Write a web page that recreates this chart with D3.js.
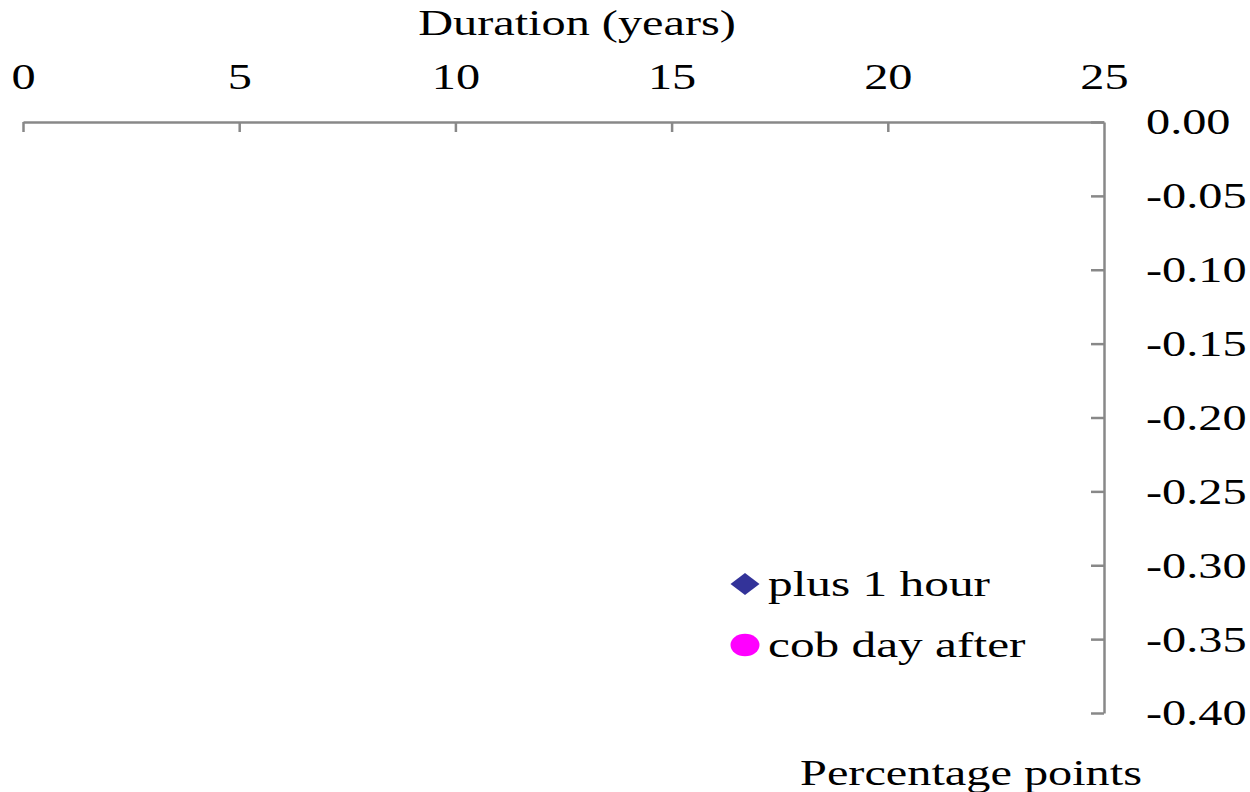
<!DOCTYPE html>
<html>
<head>
<meta charset="utf-8">
<script src="https://cdn.jsdelivr.net/npm/d3@7"></script>
<style>
  body { margin: 0; background: #fff; }
  text { font-family: "Liberation Serif", "Times New Roman", serif; fill: #000; }
  .axis path, .axis line { stroke: #888; stroke-width: 2.5; }
</style>
</head>
<body>
<div class="canvas"></div>
<script>
// chart data -- the reference shows no plotted points, only axes + legend
const seriesNames = ["plus 1 hour", "cob day after"];
const seriesColors = ["#333399", "#ff00ff"];
const plusOneHour = [];   // [duration, change]
const cobDayAfter = [];
const xTicks = [0, 5, 10, 15, 20, 25];
const yTicks = [0, -0.05, -0.10, -0.15, -0.20, -0.25, -0.30, -0.35, -0.40];

const W = 1250, H = 792,
  stretch = 1.38,      // text in the source is wide, horizontally stretched
  fontSize = 35;

const x = d3.scaleLinear().domain([0, 25]).range([23, 1104]);
const y = d3.scaleLinear().domain([0, -0.4]).range([122, 713]);

const svg = d3.select(".canvas")
  .append("svg")
  .attr("width", W)
  .attr("height", H)
  .style("background-color", "white");

// x axis along top, ticks pointing down into the plot
const xAxis = d3.axisTop(x).tickValues(xTicks).tickSize(-10).tickSizeOuter(0).tickFormat(d3.format("d"));
const gx = svg.append("g")
  .attr("class", "axis")
  .attr("transform", `translate(0, ${y(0)})`)
  .call(xAxis);
gx.selectAll(".tick line").filter(d => d === 25).remove();
gx.selectAll(".tick text")
  .attr("y", -33)
  .attr("dy", 0)
  .attr("font-size", fontSize)
  .attr("transform", `scale(${stretch},1)`);

// y axis on right, ticks pointing left
const yAxis = d3.axisRight(y).tickValues(yTicks).tickSize(-13).tickSizeOuter(0).tickFormat(d => d.toFixed(2));
const gy = svg.append("g")
  .attr("class", "axis")
  .attr("transform", `translate(${x(25)}, 0)`)
  .call(yAxis);
gy.selectAll(".tick text")
  .attr("x", 42 / stretch)
  .attr("dy", "0.34em")
  .attr("font-size", fontSize)
  .attr("transform", `scale(${stretch},1)`);

// wide diamond marker like the source
const diamondPath = "M0,-11L14.5,0L0,11L-14.5,0Z";

// series (empty in the source)
svg.append("g").selectAll("path")
  .data(plusOneHour)
  .enter()
  .append("path")
  .attr("d", diamondPath)
  .attr("fill", seriesColors[0])
  .attr("transform", d => `translate(${x(d[0])},${y(d[1])})`);

svg.append("g").selectAll("ellipse")
  .data(cobDayAfter)
  .enter()
  .append("ellipse")
  .attr("cx", d => x(d[0]))
  .attr("cy", d => y(d[1]))
  .attr("rx", 14.5)
  .attr("ry", 11)
  .attr("fill", seriesColors[1]);

// axis titles
function label(txt, cx, baseline, anchor) {
  svg.append("text")
    .attr("transform", `translate(${cx},${baseline}) scale(${stretch},1)`)
    .attr("text-anchor", anchor)
    .attr("font-size", fontSize)
    .text(txt);
}
label("Duration (years)", 577, 35, "middle");
label("Percentage points", 971, 785, "middle");

// legend
const legend = svg.append("g");
const rows = legend.selectAll("g")
  .data(seriesNames)
  .enter()
  .append("g")
  .attr("transform", (d, i) => `translate(745, ${584 + i * 61})`);

rows.filter((d, i) => i === 0)
  .append("path")
  .attr("d", diamondPath)
  .attr("fill", seriesColors[0]);

rows.filter((d, i) => i === 1)
  .append("ellipse")
  .attr("rx", 14.5)
  .attr("ry", 11.3)
  .attr("fill", seriesColors[1]);

rows.append("text")
  .attr("transform", `translate(23, 12) scale(${stretch + 0.03},1)`)
  .attr("font-size", fontSize)
  .text(d => d);
</script>
</body>
</html>
